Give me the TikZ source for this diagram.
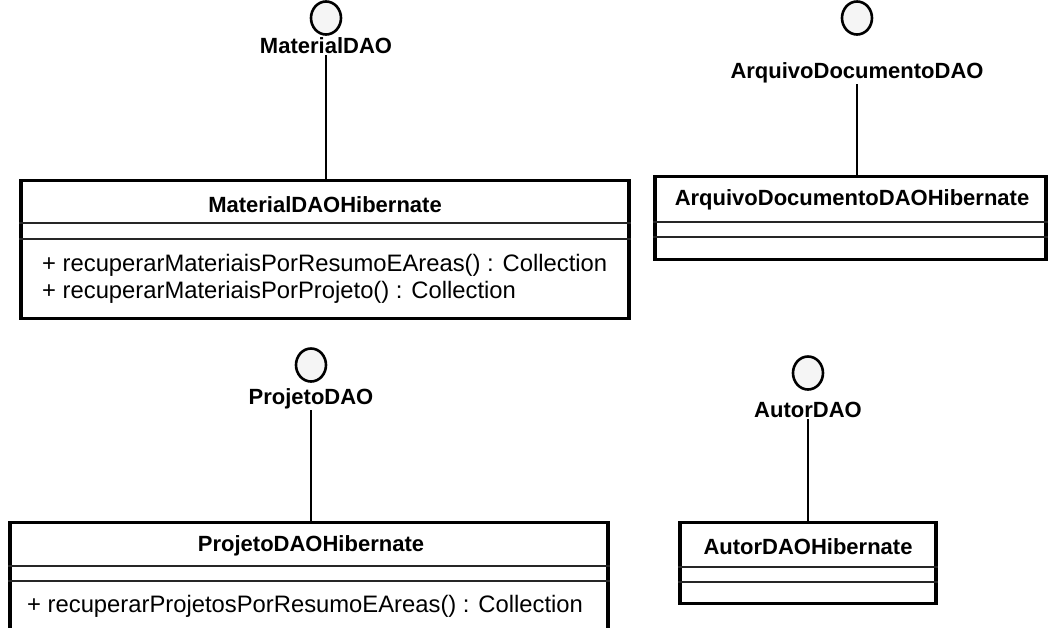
\documentclass[tikz,border=0pt]{standalone}
\usepackage{fontspec}
\setmainfont{Liberation Sans}
\usetikzlibrary{calc,shapes.geometric}
\tikzset{
  x=1pt, y=-1pt,
  iface/.style={draw=black, line width=2.6pt, fill=black!4, ellipse, minimum width=30pt, minimum height=33pt, inner sep=0pt},
  ilabel/.style={font=\fontsize{22}{26}\selectfont\bfseries, inner sep=1pt},
  classbox/.style={draw=black, line width=3.2pt, rectangle, inner sep=0pt, anchor=north},
  ctitle/.style={font=\fontsize{22}{26}\selectfont\bfseries, inner sep=0pt},
  member/.style={font=\fontsize{23.8}{28}\selectfont, inner sep=0pt, anchor=west},
  sep/.style={draw=black!85, line width=1.6pt},
  realize/.style={draw=black, line width=1.6pt}
}
\begin{document}
\begin{tikzpicture}
\useasboundingbox (0,0) rectangle (1050,627);

% ---- MaterialDAO ----
\node[iface] (mi) at (326,18) {};
\node[ilabel] (ml) at (326,46) {MaterialDAO};
\node[classbox, minimum width=608pt, minimum height=138pt] (mb) at (325,179) {};
\node[ctitle] (mt) at (325,205) {MaterialDAOHibernate};
\draw[sep] ($(mb.north west)+(0,44)$) -- ($(mb.north east)+(0,44)$);
\draw[sep] ($(mb.north west)+(0,60)$) -- ($(mb.north east)+(0,60)$);
\node[member] (m1) at (42,265) {+ recuperarMateriaisPorResumoEAreas() : Collection};
\node[member] (m2) at (42,292) {+ recuperarMateriaisPorProjeto() : Collection};
\draw[realize] (ml.south) -- (ml.south |- mb.north);

% ---- ArquivoDocumentoDAO ----
\node[iface] (ai) at (857,18) {};
\node[ilabel] (al) at (857,73) {ArquivoDocumentoDAO};
\node[classbox, minimum width=391pt, minimum height=83pt] (ab) at (850.5,175) {};
\node[ctitle] (at) at (852,200) {ArquivoDocumentoDAOHibernate};
\draw[sep] ($(ab.north west)+(0,47)$) -- ($(ab.north east)+(0,47)$);
\draw[sep] ($(ab.north west)+(0,62)$) -- ($(ab.north east)+(0,62)$);
\draw[realize] (al.south) -- (al.south |- ab.north);

% ---- ProjetoDAO ----
\node[iface] (pi) at (311,365) {};
\node[ilabel] (pl) at (311,399) {ProjetoDAO};
\node[classbox, minimum width=598pt, minimum height=130pt] (pb) at (309,521) {};
\node[ctitle] (pt) at (311,546) {ProjetoDAOHibernate};
\draw[sep] ($(pb.north west)+(0,45)$) -- ($(pb.north east)+(0,45)$);
\draw[sep] ($(pb.north west)+(0,60)$) -- ($(pb.north east)+(0,60)$);
\node[member] (p1) at (27,606) {+ recuperarProjetosPorResumoEAreas() : Collection};
\draw[realize] (pl.south) -- (pl.south |- pb.north);

% ---- AutorDAO ----
\node[iface] (ui) at (808,373) {};
\node[ilabel] (ul) at (808,410) {AutorDAO};
\node[classbox, minimum width=256pt, minimum height=81pt] (ub) at (808,521) {};
\node[ctitle] (ut) at (808,547) {AutorDAOHibernate};
\draw[sep] ($(ub.north west)+(0,46)$) -- ($(ub.north east)+(0,46)$);
\draw[sep] ($(ub.north west)+(0,61)$) -- ($(ub.north east)+(0,61)$);
\draw[realize] (ul.south) -- (ul.south |- ub.north);
\end{tikzpicture}
\end{document}
